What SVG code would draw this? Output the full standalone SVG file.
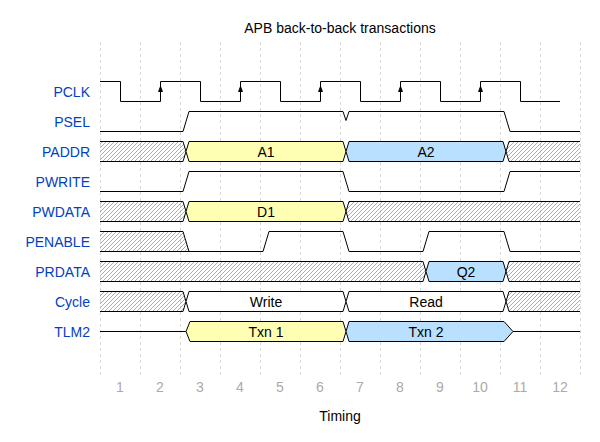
<svg xmlns="http://www.w3.org/2000/svg" width="600" height="442" viewBox="0 0 600 442">
<defs>
<pattern id="hatch" width="4" height="4" patternUnits="userSpaceOnUse">
<path d="M-1,1 L1,-1 M0,4 L4,0 M3,5 L5,3" stroke="#888" stroke-width="0.7"/>
</pattern>
</defs>
<style>
.grid{stroke:#d8d8d8;stroke-width:1;stroke-dasharray:3,3;fill:none}
.w{stroke:#000;stroke-width:1;fill:none}
.hf{fill:url(#hatch);stroke:none}
.y{fill:#ffffb4;stroke:#000;stroke-width:1}
.b{fill:#b9e0ff;stroke:#000;stroke-width:1}
.wh{fill:#fff;stroke:#000;stroke-width:1}
.lbl{font-family:"Liberation Sans",Arial,Helvetica,sans-serif;font-size:14px;fill:#0041c4;text-anchor:end}
.dt{font-family:"Liberation Sans",Arial,Helvetica,sans-serif;font-size:14px;fill:#000;text-anchor:middle}
.num{font-family:"Liberation Sans",Arial,Helvetica,sans-serif;font-size:14px;fill:#aaa;text-anchor:middle}
.arr{fill:#000}
</style>
<rect width="600" height="442" fill="#fff"/>
<g id="grid">
<line class="grid" x1="100.5" y1="42" x2="100.5" y2="375"/>
<line class="grid" x1="140.5" y1="42" x2="140.5" y2="375"/>
<line class="grid" x1="180.5" y1="42" x2="180.5" y2="375"/>
<line class="grid" x1="220.5" y1="42" x2="220.5" y2="375"/>
<line class="grid" x1="260.5" y1="42" x2="260.5" y2="375"/>
<line class="grid" x1="300.5" y1="42" x2="300.5" y2="375"/>
<line class="grid" x1="340.5" y1="42" x2="340.5" y2="375"/>
<line class="grid" x1="380.5" y1="42" x2="380.5" y2="375"/>
<line class="grid" x1="420.5" y1="42" x2="420.5" y2="375"/>
<line class="grid" x1="460.5" y1="42" x2="460.5" y2="375"/>
<line class="grid" x1="500.5" y1="42" x2="500.5" y2="375"/>
<line class="grid" x1="540.5" y1="42" x2="540.5" y2="375"/>
<line class="grid" x1="580.5" y1="42" x2="580.5" y2="375"/>
</g>
<text class="dt" x="340" y="33">APB back-to-back transactions</text>
<g id="PCLK">
<text class="lbl" x="90" y="96.5">PCLK</text>
<path class="w" d="M100,81.5 H120.5 V101.5 H160.5 V81.5 H200.5 V101.5 H240.5 V81.5 H280.5 V101.5 H320.5 V81.5 H360.5 V101.5 H400.5 V81.5 H440.5 V101.5 H480.5 V81.5 H520.5 V101.5 H560"/>
<polygon class="arr" points="160.5,85 158,92 163,92"/>
<polygon class="arr" points="240.5,85 238,92 243,92"/>
<polygon class="arr" points="320.5,85 318,92 323,92"/>
<polygon class="arr" points="400.5,85 398,92 403,92"/>
<polygon class="arr" points="480.5,85 478,92 483,92"/>
</g>
<g id="PSEL">
<text class="lbl" x="90" y="126.5">PSEL</text>
<path class="w" d="M100,131.5 H183 L189,111.5 H343 L346,120.5 L349,111.5 H504 L510,131.5 H580"/>
</g>
<g id="PADDR">
<text class="lbl" x="90" y="156.5">PADDR</text>
<polygon class="hf" points="100,141.5 183,141.5 186,151.5 183,161.5 100,161.5"/>
<path class="w" d="M100,141.5 H183 L186,151.5 L183,161.5 H100"/>
<polygon class="y" points="186,151.5 189,141.5 343,141.5 346,151.5 343,161.5 189,161.5"/>
<text class="dt" x="266" y="156.5">A1</text>
<polygon class="b" points="346,151.5 349,141.5 503,141.5 506,151.5 503,161.5 349,161.5"/>
<text class="dt" x="426" y="156.5">A2</text>
<polygon class="hf" points="506,151.5 509,141.5 580,141.5 580,161.5 509,161.5"/>
<path class="w" d="M580,141.5 H509 L506,151.5 L509,161.5 H580"/>
</g>
<g id="PWRITE">
<text class="lbl" x="90" y="186.5">PWRITE</text>
<path class="w" d="M100,191.5 H183 L189,171.5 H343 L349,191.5 H504 L510,171.5 H580"/>
</g>
<g id="PWDATA">
<text class="lbl" x="90" y="216.5">PWDATA</text>
<polygon class="hf" points="100,201.5 183,201.5 186,211.5 183,221.5 100,221.5"/>
<path class="w" d="M100,201.5 H183 L186,211.5 L183,221.5 H100"/>
<polygon class="y" points="186,211.5 189,201.5 343,201.5 346,211.5 343,221.5 189,221.5"/>
<text class="dt" x="266" y="216.5">D1</text>
<polygon class="hf" points="346,211.5 349,201.5 580,201.5 580,221.5 349,221.5"/>
<path class="w" d="M580,201.5 H349 L346,211.5 L349,221.5 H580"/>
</g>
<g id="PENABLE">
<text class="lbl" x="90" y="246.5">PENABLE</text>
<polygon class="hf" points="100,231.5 183,231.5 189,251.5 100,251.5"/>
<path class="w" d="M100,231.5 H183 L189,251.5"/>
<path class="w" d="M100,251.5 H263 L269,231.5 H343 L349,251.5 H423 L429,231.5 H504 L510,251.5 H580"/>
</g>
<g id="PRDATA">
<text class="lbl" x="90" y="276.5">PRDATA</text>
<polygon class="hf" points="100,261.5 423,261.5 426,271.5 423,281.5 100,281.5"/>
<path class="w" d="M100,261.5 H423 L426,271.5 L423,281.5 H100"/>
<polygon class="b" points="426,271.5 429,261.5 503,261.5 506,271.5 503,281.5 429,281.5"/>
<text class="dt" x="466" y="276.5">Q2</text>
<polygon class="hf" points="506,271.5 509,261.5 580,261.5 580,281.5 509,281.5"/>
<path class="w" d="M580,261.5 H509 L506,271.5 L509,281.5 H580"/>
</g>
<g id="Cycle">
<text class="lbl" x="90" y="306.5">Cycle</text>
<polygon class="hf" points="100,291.5 183,291.5 186,301.5 183,311.5 100,311.5"/>
<path class="w" d="M100,291.5 H183 L186,301.5 L183,311.5 H100"/>
<polygon class="wh" points="186,301.5 189,291.5 343,291.5 346,301.5 343,311.5 189,311.5"/>
<text class="dt" x="266" y="306.5">Write</text>
<polygon class="wh" points="346,301.5 349,291.5 503,291.5 506,301.5 503,311.5 349,311.5"/>
<text class="dt" x="426" y="306.5">Read</text>
<polygon class="hf" points="506,301.5 509,291.5 580,291.5 580,311.5 509,311.5"/>
<path class="w" d="M580,291.5 H509 L506,301.5 L509,311.5 H580"/>
</g>
<g id="TLM2">
<text class="lbl" x="90" y="336.5">TLM2</text>
<path class="w" d="M100,331.5 H186"/>
<polygon class="y" points="186,331.5 190,321.5 343,321.5 346,331.5 343,341.5 190,341.5"/>
<text class="dt" x="266" y="336.5">Txn 1</text>
<polygon class="b" points="346,331.5 349,321.5 504,321.5 513,331.5 504,341.5 349,341.5"/>
<text class="dt" x="426" y="336.5">Txn 2</text>
<path class="w" d="M513,331.5 H580"/>
</g>
<g id="axis">
<text class="num" x="120" y="392">1</text>
<text class="num" x="160" y="392">2</text>
<text class="num" x="200" y="392">3</text>
<text class="num" x="240" y="392">4</text>
<text class="num" x="280" y="392">5</text>
<text class="num" x="320" y="392">6</text>
<text class="num" x="360" y="392">7</text>
<text class="num" x="400" y="392">8</text>
<text class="num" x="440" y="392">9</text>
<text class="num" x="480" y="392">10</text>
<text class="num" x="520" y="392">11</text>
<text class="num" x="560" y="392">12</text>
<text class="dt" x="340" y="421">Timing</text>
</g>
</svg>
